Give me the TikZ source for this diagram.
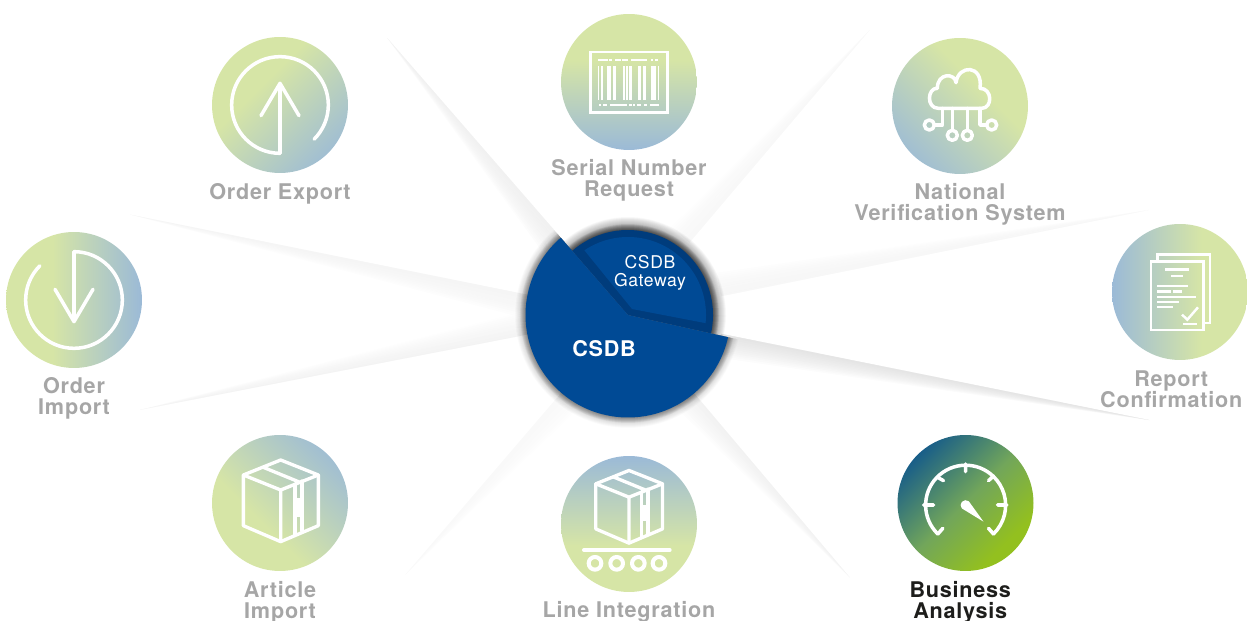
\documentclass[tikz,border=0pt]{standalone}
\usepackage{fontspec}
\setmainfont{TeX Gyre Heros}
\newfontfamily\labelfont[LetterSpace=3.5]{TeX Gyre Heros}
\usetikzlibrary{positioning,calc}
\definecolor{csdbblue}{HTML}{004A95}
\definecolor{csdbdark}{HTML}{003C7C}
\definecolor{hubgreen}{HTML}{D6E5A6}
\definecolor{hubblue}{HTML}{9BBAD7}
\definecolor{gaugegreen}{HTML}{93C01F}
\definecolor{gaugemid}{HTML}{72A65A}
\definecolor{labelgray}{HTML}{A6A6A6}
\definecolor{labeldark}{HTML}{1D1D1B}
\pgfdeclareverticalshading{hubfade}{100bp}{color(0bp)=(hubgreen); color(25bp)=(hubgreen); color(42bp)=(hubgreen); color(75bp)=(hubblue); color(100bp)=(hubblue)}
\pgfdeclareverticalshading{hubdiag}{100bp}{color(0bp)=(hubgreen); color(15bp)=(hubgreen); color(40bp)=(hubgreen); color(79bp)=(hubblue); color(100bp)=(hubblue)}
\pgfdeclareverticalshading{gaugefade}{100bp}{color(0bp)=(gaugegreen); color(29bp)=(gaugegreen); color(50bp)=(gaugemid); color(82bp)=(csdbblue); color(100bp)=(csdbblue)}
\tikzset{
  hub/.style={circle, minimum size=2.72cm, inner sep=0pt, shade, shading=hubfade},
  diaghub/.style={hub, shading=hubdiag},
  hublabel/.style={align=center, inner sep=0pt, text=labelgray, font=\labelfont\bfseries\fontsize{12.3}{11.9}\selectfont},
  zoomed/.style={x=.00667cm, y=-.00667cm},
  icon/.style={draw=white, line width=2pt, line cap=round, line join=round},
  thinicon/.style={draw=white, line width=1.4pt, line join=miter}
}
\newcommand{\crate}{
  \draw[icon, line width=1.9pt] (152,15) -- (265,60) -- (265,212) -- (152,260) -- (40,212) -- (40,60) -- cycle;
  \draw[icon, line width=1.9pt] (40,60) -- (152,105) -- (265,60) (152,105) -- (152,260) (100,37) -- (210,82);
  \draw[icon, line width=1.9pt] (195,88) -- (195,238) (216,78) -- (216,228);
  \fill[white] (195,130) rectangle (216,185);
}
\begin{document}
\begin{tikzpicture}[x=.02cm, y=.02cm]
  \useasboundingbox (0,0) rectangle (1247,621);
  \coordinate (csdbcenter) at (628,306);
  \foreach \ang/\len/\side/\dark in {131/367/1/14, 168.6/508/1/10, 191/497/-1/10, 229.4/342/1/6,
      -49.8/344/-1/12, -11.4/532/-1/26, 11.4/532/1/8, 49.7/374/1/7}
    \foreach \w in {24,22,...,2}
      \shade[left color=black!\dark!white, right color=white, shading angle=\ang, opacity=.12]
        ($(csdbcenter)+(\ang:95)$) -- ($(csdbcenter)+(\ang:95)+(\ang+90*\side:\w)$)
        -- ($(csdbcenter)+(\ang:\len)$) -- cycle;

  \foreach \r in {103,103.5,...,113}
    \fill[black, opacity=.012] (csdbcenter) -- ($(csdbcenter)+(131:\r)$)
      arc[start angle=131, end angle=347.5, radius=\r] -- cycle;
  \foreach \r in {103,103.5,...,108}
    \fill[black, opacity=.03] (csdbcenter) -- ($(csdbcenter)+(131:\r)$)
      arc[start angle=131, end angle=347.5, radius=\r] -- cycle;
  \foreach \r in {85,85.5,...,98}
    \fill[black, opacity=.02] (csdbcenter) -- ($(csdbcenter)+(-12.5:\r)$)
      arc[start angle=-12.5, end angle=131, radius=\r] -- cycle;
  \foreach \r in {85,85.5,...,91}
    \fill[black, opacity=.05] (csdbcenter) -- ($(csdbcenter)+(-12.5:\r)$)
      arc[start angle=-12.5, end angle=131, radius=\r] -- cycle;
  \fill[csdbdark] (csdbcenter) -- ($(csdbcenter)+(-12.5:85)$)
      arc[start angle=-12.5, end angle=131, radius=85] -- cycle;
  \fill[csdbblue] ($(csdbcenter)+(4,6)$) -- ($(csdbcenter)+(-6:78)$)
      arc[start angle=-6, end angle=124, radius=78] -- cycle;
  \fill[csdbblue] (csdbcenter) -- ($(csdbcenter)+(131:102.5)$)
      arc[start angle=131, end angle=347.5, radius=102.5] -- cycle;
  \node (gateway) [white, align=center, inner sep=0pt, font=\labelfont\fontsize{10}{10.2}\selectfont] at (650,348) {CSDB\\Gateway};
  \node (csdb) [white, inner sep=0pt, font=\labelfont\bfseries\fontsize{12.3}{12}\selectfont] at (604,272.5) {CSDB};

  \node (orderexport) [diaghub, shading angle=225] at (280,516) {};
  \node (serial) [hub, shading angle=180] at (629,539) {};
  \node (national) [diaghub, shading angle=135] at (960,515) {};
  \node (report) [hub, shading angle=90] at (1180,329) {};
  \node (business) [hub, shading=gaugefade, shading angle=45] at (965.5,118) {};
  \node (line) [hub, shading angle=0] at (629,97) {};
  \node (article) [diaghub, shading angle=-45] at (280,118) {};
  \node (orderimport) [hub, shading angle=-90] at (74,321) {};

  \node (orderexportlabel) [hublabel, below=5.4pt of orderexport] {Order Export};
  \node (seriallabel) [hublabel, below=5pt of serial] {Serial Number\\Request};
  \node (nationallabel) [hublabel, below=5pt of national] {National\\Verification System};
  \node (reportlabel) [hublabel, below=5.6pt of report, xshift=-5pt] {Report\\Confirmation};
  \node (businesslabel) [hublabel, text=labeldark, below=5.5pt of business, xshift=-3pt] {Business\\Analysis};
  \node (linelabel) [hublabel, below=5pt of line] {Line Integration};
  \node (articlelabel) [hublabel, below=5.7pt of article] {Article\\Import};
  \node (orderimportlabel) [hublabel, below=5pt of orderimport] {Order\\Import};

  \begin{scope}[shift={(orderexport.center)}, zoomed, shift={(-240,-225)}]
    \draw[icon] (240,370) arc[start angle=90, end angle=405, radius=145];
    \draw[icon] (240,370) -- (240,160) (183,257) -- (240,160) -- (297,257);
  \end{scope}
  \begin{scope}[shift={(orderimport.center)}, rotate=180, zoomed, shift={(-240,-225)}]
    \draw[icon] (240,370) arc[start angle=90, end angle=405, radius=145];
    \draw[icon] (240,370) -- (240,160) (183,257) -- (240,160) -- (297,257);
  \end{scope}

  \begin{scope}[shift={(serial.center)}, zoomed, shift={(-239,-228)}]
    \draw[thinicon] (124,138) rectangle (355,320);
    \foreach \a/\b in {145/150, 155/162, 172/186, 192/200, 220/226, 230/236, 240/247, 267/274, 282/290, 304/320, 325/330}
      \fill[white] (\a,180) rectangle (\b,282);
    \foreach \a/\b in {145/175, 180/188, 198/214, 218/226, 228/237, 246/292, 304/312, 318/326}
      \fill[white] (\a,158) rectangle (\b,164);
    \foreach \a/\b in {148/155, 162/172, 182/232, 238/248, 250/258, 264/276, 285/293, 303/330}
      \fill[white] (\a,294) rectangle (\b,300);
  \end{scope}

  \begin{scope}[shift={(national.center)}, zoomed, shift={(-240,-225)}]
    \draw[icon] (175,232) .. controls (138,232) and (142,170) .. (172,172)
      .. controls (172,125) and (225,125) .. (228,155)
      .. controls (235,100) and (310,100) .. (300,172)
      .. controls (338,172) and (338,232) .. (305,232) -- cycle;
    \draw[icon] (187,232) -- (187,282) -- (165,282) (217,232) -- (217,298)
      (262,232) -- (262,298) (300,232) -- (300,282) -- (318,282);
    \foreach \a/\b in {148/282, 217/313, 262/313, 335/282}
      \draw[icon] (\a,\b) circle (15);
  \end{scope}

  \begin{scope}[shift={(report.center)}, zoomed, shift={(-240,-232)}]
    \draw[thinicon] (172,140) -- (172,120) -- (330,120) -- (330,325) -- (310,325);
    \draw[thinicon] (153,140) rectangle (310,346);
    \foreach \a/\b/\c in {195/267/165, 213/250/184, 172/264/214, 172/212/230, 220/245/230, 172/288/247, 172/236/262, 172/218/277, 250/292/328}
      \draw[thinicon] (\a,\c) -- (\b,\c);
    \draw[thinicon] (246,300) -- (262,315) -- (294,278);
  \end{scope}

  \begin{scope}[shift={(article.center)}, zoomed, shift={(-150,-144)}]
    \crate
  \end{scope}
  \begin{scope}[shift={(line.center)}, zoomed, shift={(-240,-237)}]
    \begin{scope}[shift={(240,185)}, scale=.89, shift={(-152,-137)}]
      \crate
    \end{scope}
    \draw[icon, line width=2.3pt] (105,315) -- (362,315);
    \foreach \a in {138,203,268,330}
      \draw[icon, line width=2.3pt] (\a,355) circle (19);
  \end{scope}

  \begin{scope}[shift={(business.center)}, zoomed, shift={(-256,-249)}]
    \draw[icon] (173,342) arc[start angle=134, end angle=406, radius=120];
    \draw[icon] (173,342) -- (188,325) (340,342) -- (325,325) (130,255) -- (160,255)
      (172,172) -- (190,182) (256,132) -- (256,155) (340,168) -- (325,182) (352,255) -- (380,255);
    \fill[white] (310,305) -- (266,244) arc[start angle=-50, end angle=-220, radius=15] -- cycle;
  \end{scope}
\end{tikzpicture}
\end{document}
